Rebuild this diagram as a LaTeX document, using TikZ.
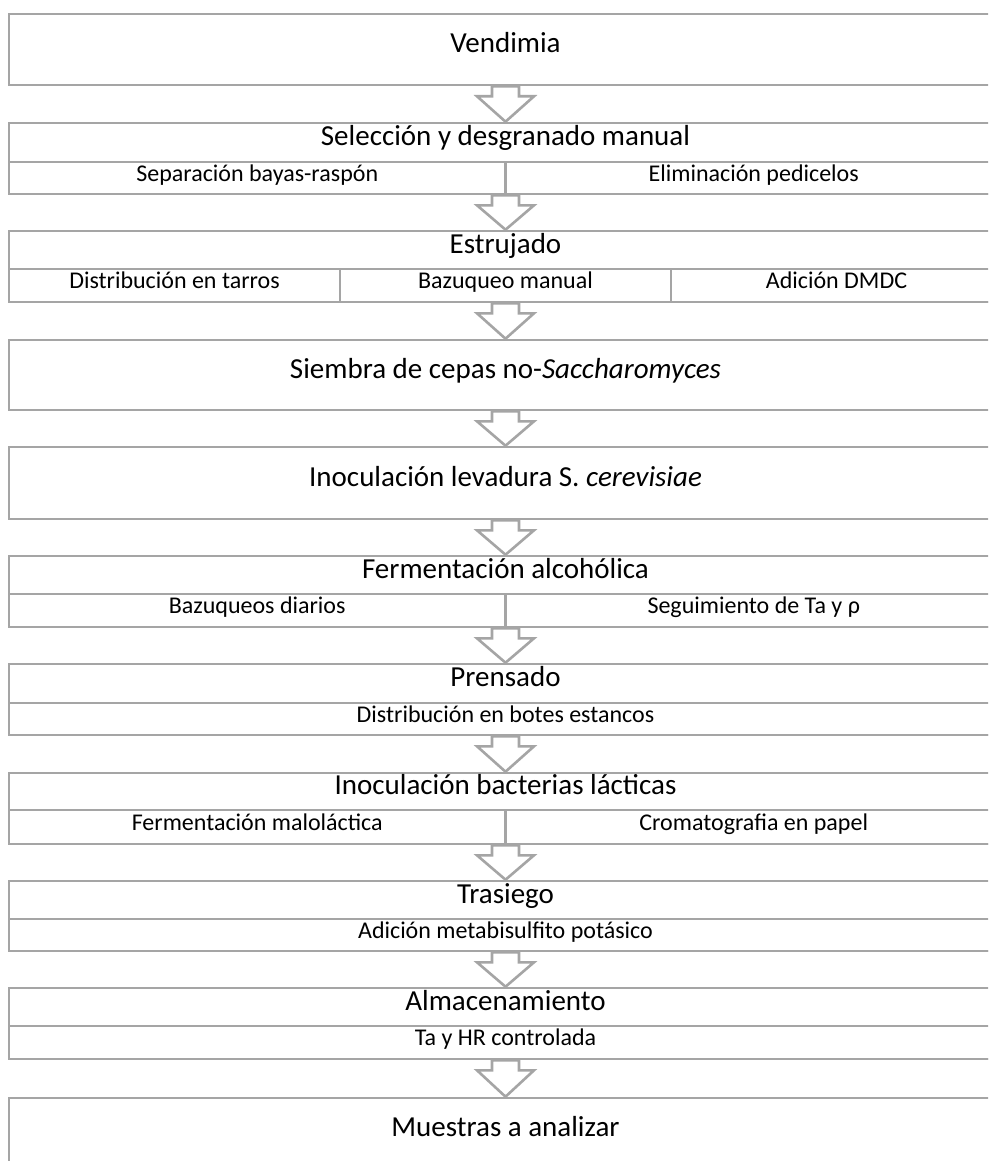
\documentclass[tikz,border=0pt]{standalone}
\usepackage{fontspec}
\setmainfont{Carlito}
\usetikzlibrary{calc}
\definecolor{lc}{RGB}{165,165,165}
\tikzset{
  box/.style={draw=lc, line width=2.6pt, fill=white, inner sep=0pt, anchor=center},
  lbl/.style={inner sep=0pt, anchor=center},
  ttl/.style={font=\fontsize{29}{34}\selectfont, text height=0.64em, text depth=0pt},
  subt/.style={font=\fontsize{24}{28}\selectfont, text height=0.64em, text depth=0pt},
  blk/.style={draw=lc, line width=2.6pt, fill=white, line join=miter},
}
% name, x1, x2, y1, y2, style, text
\newcommand\BX[7]{\node[#6,minimum width={#3-#2},minimum height={#5-#4}] (#1) at ({(#2+#3)/2},{(#4+#5)/2}) {#7};}
\newcommand\ARR[2]{\draw[blk] ($(#1.south)+(-13.5,0)$) -- ($(#1.south)+(-13.5,10)$) -- ($(#1.south)+(-28.5,10)$) -- (#2.north) -- ($(#1.south)+(28.5,10)$) -- ($(#1.south)+(13.5,10)$) -- ($(#1.south)+(13.5,0)$) -- cycle;}
\begin{document}
\begin{tikzpicture}[x=1pt,y=-1pt]
\useasboundingbox (0,0) rectangle (988,1161);
\clip (0,0) rectangle (988,1161);
\fill[white] (0,0) rectangle (988,1161);

% 1 Vendimia
\BX{vend}{9}{1002}{14}{85}{box,ttl}{Vendimia}
% 2 Seleccion
\BX{sel}{9}{1002}{123}{194}{box}{}
\BX{selt}{9}{1002}{123}{162}{lbl,ttl}{Selección y desgranado manual}
\BX{sela}{9}{505.5}{162}{194}{box,subt}{Separación bayas-raspón}
\BX{selb}{505.5}{1002}{162}{194}{box,subt}{Eliminación pedicelos}
% 3 Estrujado
\BX{est}{9}{1002}{231}{302}{box}{}
\BX{estt}{9}{1002}{231}{269}{lbl,ttl}{Estrujado}
\BX{esta}{9}{340}{269}{302}{box,subt}{Distribución en tarros}
\BX{estb}{340}{671}{269}{302}{box,subt}{Bazuqueo manual}
\BX{estc}{671}{1002}{269}{302}{box,subt}{Adición DMDC}
% 4 Siembra
\BX{sie}{9}{1002}{340}{410}{box,ttl}{Siembra de cepas no-\textit{Saccharomyces}}
% 5 Inoculacion levadura
\BX{ino}{9}{1002}{447}{519}{box,ttl}{Inoculación levadura S. \textit{cerevisiae}}
% 6 Fermentacion
\BX{fer}{9}{1002}{556}{627}{box}{}
\BX{fert}{9}{1002}{556}{594}{lbl,ttl}{Fermentación alcohólica}
\BX{fera}{9}{505.5}{594}{627}{box,subt}{Bazuqueos diarios}
\BX{ferb}{505.5}{1002}{594}{627}{box,subt}{Seguimiento de Ta y ρ}
% 7 Prensado
\BX{pre}{9}{1002}{664}{735}{box}{}
\BX{pret}{9}{1002}{664}{703}{lbl,ttl}{Prensado}
\BX{prea}{9}{1002}{703}{735}{box,subt}{Distribución en botes estancos}
% 8 Inoculacion bacterias
\BX{bac}{9}{1002}{773}{844}{box}{}
\BX{bact}{9}{1002}{773}{810}{lbl,ttl}{Inoculación bacterias lácticas}
\BX{baca}{9}{505.5}{810}{844}{box,subt}{Fermentación maloláctica}
\BX{bacb}{505.5}{1002}{810}{844}{box,subt}{Cromatografia en papel}
% 9 Trasiego
\BX{tra}{9}{1002}{881}{951}{box}{}
\BX{trat}{9}{1002}{881}{919}{lbl,ttl}{Trasiego}
\BX{traa}{9}{1002}{919}{951}{box,subt}{Adición metabisulfito potásico}
% 10 Almacenamiento
\BX{alm}{9}{1002}{988}{1059}{box}{}
\BX{almt}{9}{1002}{988}{1026}{lbl,ttl}{Almacenamiento}
\BX{alma}{9}{1002}{1026}{1059}{box,subt}{Ta y HR controlada}
% 11 Muestras
\BX{mue}{9}{1002}{1098}{1168}{box,ttl}{Muestras a analizar}

\ARR{vend}{sel}
\ARR{sel}{est}
\ARR{est}{sie}
\ARR{sie}{ino}
\ARR{ino}{fer}
\ARR{fer}{pre}
\ARR{pre}{bac}
\ARR{bac}{tra}
\ARR{tra}{alm}
\ARR{alm}{mue}
\end{tikzpicture}
\end{document}
